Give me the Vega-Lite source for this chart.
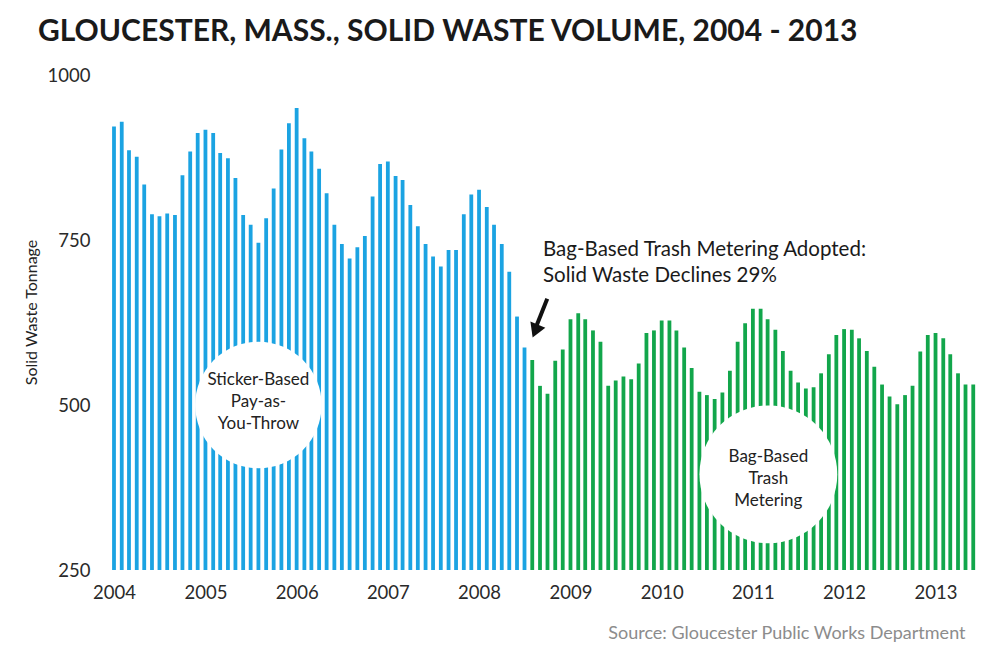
{
  "$schema": "https://vega.github.io/schema/vega-lite/v6.json",
  "autosize": {"type": "none"},
  "width": 877,
  "height": 495,
  "padding": {"left": 105, "top": 75, "right": 3, "bottom": 87},
  "background": "white",
  "config": {"font": "Lato", "view": {"stroke": null}},
  "title": {
    "text": "GLOUCESTER, MASS., SOLID WASTE VOLUME, 2004 - 2013",
    "anchor": "start",
    "frame": "group",
    "dx": -67,
    "offset": 19,
    "fontSize": 30,
    "fontWeight": "bold",
    "color": "#1a1a1a"
  },
  "layer": [
    {
      "data": {"values": [
        {"month": "2004-01-01", "tons": 922, "program": "Sticker"},
        {"month": "2004-02-01", "tons": 929, "program": "Sticker"},
        {"month": "2004-03-01", "tons": 886, "program": "Sticker"},
        {"month": "2004-04-01", "tons": 876, "program": "Sticker"},
        {"month": "2004-05-01", "tons": 834, "program": "Sticker"},
        {"month": "2004-06-01", "tons": 789, "program": "Sticker"},
        {"month": "2004-07-01", "tons": 786, "program": "Sticker"},
        {"month": "2004-08-01", "tons": 790, "program": "Sticker"},
        {"month": "2004-09-01", "tons": 788, "program": "Sticker"},
        {"month": "2004-10-01", "tons": 848, "program": "Sticker"},
        {"month": "2004-11-01", "tons": 884, "program": "Sticker"},
        {"month": "2004-12-01", "tons": 912, "program": "Sticker"},
        {"month": "2005-01-01", "tons": 917, "program": "Sticker"},
        {"month": "2005-02-01", "tons": 912, "program": "Sticker"},
        {"month": "2005-03-01", "tons": 882, "program": "Sticker"},
        {"month": "2005-04-01", "tons": 874, "program": "Sticker"},
        {"month": "2005-05-01", "tons": 844, "program": "Sticker"},
        {"month": "2005-06-01", "tons": 788, "program": "Sticker"},
        {"month": "2005-07-01", "tons": 773, "program": "Sticker"},
        {"month": "2005-08-01", "tons": 746, "program": "Sticker"},
        {"month": "2005-09-01", "tons": 783, "program": "Sticker"},
        {"month": "2005-10-01", "tons": 828, "program": "Sticker"},
        {"month": "2005-11-01", "tons": 887, "program": "Sticker"},
        {"month": "2005-12-01", "tons": 927, "program": "Sticker"},
        {"month": "2006-01-01", "tons": 950, "program": "Sticker"},
        {"month": "2006-02-01", "tons": 904, "program": "Sticker"},
        {"month": "2006-03-01", "tons": 884, "program": "Sticker"},
        {"month": "2006-04-01", "tons": 858, "program": "Sticker"},
        {"month": "2006-05-01", "tons": 821, "program": "Sticker"},
        {"month": "2006-06-01", "tons": 773, "program": "Sticker"},
        {"month": "2006-07-01", "tons": 744, "program": "Sticker"},
        {"month": "2006-08-01", "tons": 722, "program": "Sticker"},
        {"month": "2006-09-01", "tons": 739, "program": "Sticker"},
        {"month": "2006-10-01", "tons": 756, "program": "Sticker"},
        {"month": "2006-11-01", "tons": 816, "program": "Sticker"},
        {"month": "2006-12-01", "tons": 865, "program": "Sticker"},
        {"month": "2007-01-01", "tons": 869, "program": "Sticker"},
        {"month": "2007-02-01", "tons": 847, "program": "Sticker"},
        {"month": "2007-03-01", "tons": 841, "program": "Sticker"},
        {"month": "2007-04-01", "tons": 803, "program": "Sticker"},
        {"month": "2007-05-01", "tons": 771, "program": "Sticker"},
        {"month": "2007-06-01", "tons": 744, "program": "Sticker"},
        {"month": "2007-07-01", "tons": 725, "program": "Sticker"},
        {"month": "2007-08-01", "tons": 710, "program": "Sticker"},
        {"month": "2007-09-01", "tons": 735, "program": "Sticker"},
        {"month": "2007-10-01", "tons": 735, "program": "Sticker"},
        {"month": "2007-11-01", "tons": 789, "program": "Sticker"},
        {"month": "2007-12-01", "tons": 819, "program": "Sticker"},
        {"month": "2008-01-01", "tons": 826, "program": "Sticker"},
        {"month": "2008-02-01", "tons": 800, "program": "Sticker"},
        {"month": "2008-03-01", "tons": 773, "program": "Sticker"},
        {"month": "2008-04-01", "tons": 744, "program": "Sticker"},
        {"month": "2008-05-01", "tons": 702, "program": "Sticker"},
        {"month": "2008-06-01", "tons": 634, "program": "Sticker"},
        {"month": "2008-07-01", "tons": 587, "program": "Sticker"},
        {"month": "2008-08-01", "tons": 568, "program": "Bag"},
        {"month": "2008-09-01", "tons": 529, "program": "Bag"},
        {"month": "2008-10-01", "tons": 517, "program": "Bag"},
        {"month": "2008-11-01", "tons": 567, "program": "Bag"},
        {"month": "2008-12-01", "tons": 584, "program": "Bag"},
        {"month": "2009-01-01", "tons": 630, "program": "Bag"},
        {"month": "2009-02-01", "tons": 639, "program": "Bag"},
        {"month": "2009-03-01", "tons": 630, "program": "Bag"},
        {"month": "2009-04-01", "tons": 613, "program": "Bag"},
        {"month": "2009-05-01", "tons": 596, "program": "Bag"},
        {"month": "2009-06-01", "tons": 529, "program": "Bag"},
        {"month": "2009-07-01", "tons": 537, "program": "Bag"},
        {"month": "2009-08-01", "tons": 543, "program": "Bag"},
        {"month": "2009-09-01", "tons": 539, "program": "Bag"},
        {"month": "2009-10-01", "tons": 563, "program": "Bag"},
        {"month": "2009-11-01", "tons": 609, "program": "Bag"},
        {"month": "2009-12-01", "tons": 613, "program": "Bag"},
        {"month": "2010-01-01", "tons": 628, "program": "Bag"},
        {"month": "2010-02-01", "tons": 628, "program": "Bag"},
        {"month": "2010-03-01", "tons": 613, "program": "Bag"},
        {"month": "2010-04-01", "tons": 587, "program": "Bag"},
        {"month": "2010-05-01", "tons": 556, "program": "Bag"},
        {"month": "2010-06-01", "tons": 520, "program": "Bag"},
        {"month": "2010-07-01", "tons": 515, "program": "Bag"},
        {"month": "2010-08-01", "tons": 509, "program": "Bag"},
        {"month": "2010-09-01", "tons": 519, "program": "Bag"},
        {"month": "2010-10-01", "tons": 552, "program": "Bag"},
        {"month": "2010-11-01", "tons": 596, "program": "Bag"},
        {"month": "2010-12-01", "tons": 624, "program": "Bag"},
        {"month": "2011-01-01", "tons": 646, "program": "Bag"},
        {"month": "2011-02-01", "tons": 646, "program": "Bag"},
        {"month": "2011-03-01", "tons": 630, "program": "Bag"},
        {"month": "2011-04-01", "tons": 614, "program": "Bag"},
        {"month": "2011-05-01", "tons": 582, "program": "Bag"},
        {"month": "2011-06-01", "tons": 552, "program": "Bag"},
        {"month": "2011-07-01", "tons": 534, "program": "Bag"},
        {"month": "2011-08-01", "tons": 525, "program": "Bag"},
        {"month": "2011-09-01", "tons": 527, "program": "Bag"},
        {"month": "2011-10-01", "tons": 548, "program": "Bag"},
        {"month": "2011-11-01", "tons": 577, "program": "Bag"},
        {"month": "2011-12-01", "tons": 606, "program": "Bag"},
        {"month": "2012-01-01", "tons": 615, "program": "Bag"},
        {"month": "2012-02-01", "tons": 614, "program": "Bag"},
        {"month": "2012-03-01", "tons": 601, "program": "Bag"},
        {"month": "2012-04-01", "tons": 582, "program": "Bag"},
        {"month": "2012-05-01", "tons": 558, "program": "Bag"},
        {"month": "2012-06-01", "tons": 531, "program": "Bag"},
        {"month": "2012-07-01", "tons": 513, "program": "Bag"},
        {"month": "2012-08-01", "tons": 501, "program": "Bag"},
        {"month": "2012-09-01", "tons": 515, "program": "Bag"},
        {"month": "2012-10-01", "tons": 529, "program": "Bag"},
        {"month": "2012-11-01", "tons": 581, "program": "Bag"},
        {"month": "2012-12-01", "tons": 606, "program": "Bag"},
        {"month": "2013-01-01", "tons": 609, "program": "Bag"},
        {"month": "2013-02-01", "tons": 601, "program": "Bag"},
        {"month": "2013-03-01", "tons": 577, "program": "Bag"},
        {"month": "2013-04-01", "tons": 548, "program": "Bag"},
        {"month": "2013-05-01", "tons": 531, "program": "Bag"},
        {"month": "2013-06-01", "tons": 531, "program": "Bag"}
      ]},
      "mark": {"type": "bar", "width": 3.8},
      "encoding": {
        "x": {
          "field": "month",
          "type": "temporal",
          "scale": {
            "type": "utc",
            "domain": [
              {"year": 2003, "month": 12, "date": 16, "utc": true},
              {"year": 2013, "month": 6, "date": 16, "utc": true}
            ]
          },
          "axis": {
            "format": "%Y",
            "tickCount": {"interval": "year", "step": 1},
            "labelFontSize": 18.5,
            "labelColor": "#2a2a2a",
            "labelPadding": 13,
            "labelFlush": false,
            "ticks": false,
            "domain": false,
            "grid": false,
            "title": "Source: Gloucester Public Works Department",
            "titleFontSize": 18,
            "titleFontWeight": "normal",
            "titleColor": "#8c8c8c",
            "titleX": 860,
            "titleY": 63,
            "titleAlign": "right",
            "titleBaseline": "middle"
          }
        },
        "y": {
          "field": "tons",
          "type": "quantitative",
          "scale": {"domain": [250, 1000], "nice": false, "zero": false},
          "axis": {
            "values": [250, 500, 750, 1000],
            "format": "d",
            "labelFontSize": 18.5,
            "labelColor": "#2a2a2a",
            "labelPadding": 15,
            "ticks": false,
            "domain": false,
            "grid": false,
            "title": "Solid Waste Tonnage",
            "titleFontSize": 16,
            "titleFontWeight": "normal",
            "titleColor": "#222222",
            "titlePadding": 8,
            "titleY": 237
          }
        },
        "y2": {"datum": 250},
        "color": {
          "field": "program",
          "type": "nominal",
          "scale": {"domain": ["Sticker", "Bag"], "range": ["#1ba3e2", "#12a64b"]},
          "legend": null
        }
      }
    },
    {
      "data": {"values": [{}]},
      "mark": {"type": "point", "shape": "circle", "filled": true, "color": "white", "opacity": 1, "size": 16000},
      "encoding": {
        "x": {"datum": {"year": 2005, "month": 8, "date": 1, "utc": true}, "type": "temporal"},
        "y": {"datum": 500, "type": "quantitative"}
      }
    },
    {
      "data": {"values": [{}]},
      "mark": {"type": "point", "shape": "circle", "filled": true, "color": "white", "opacity": 1, "size": 19000},
      "encoding": {
        "x": {"datum": {"year": 2011, "month": 3, "date": 4, "utc": true}, "type": "temporal"},
        "y": {"datum": 395, "type": "quantitative"}
      }
    },
    {
      "data": {"values": [{}]},
      "mark": {"type": "text", "text": "Sticker-Based\nPay-as-\nYou-Throw", "lineBreak": "\n", "lineHeight": 22, "fontSize": 17, "color": "#222222", "align": "center", "baseline": "middle"},
      "encoding": {
        "x": {"datum": {"year": 2005, "month": 8, "date": 1, "utc": true}, "type": "temporal"},
        "y": {"datum": 538, "type": "quantitative"}
      }
    },
    {
      "data": {"values": [{}]},
      "mark": {"type": "text", "text": "Bag-Based\nTrash\nMetering", "lineBreak": "\n", "lineHeight": 22, "fontSize": 17, "color": "#222222", "align": "center", "baseline": "middle"},
      "encoding": {
        "x": {"datum": {"year": 2011, "month": 3, "date": 4, "utc": true}, "type": "temporal"},
        "y": {"datum": 421, "type": "quantitative"}
      }
    },
    {
      "data": {"values": [{}]},
      "mark": {"type": "text", "text": "Bag-Based Trash Metering Adopted:\nSolid Waste Declines 29%", "lineBreak": "\n", "lineHeight": 26, "fontSize": 20.5, "color": "#1a1a1a", "align": "left", "baseline": "middle"},
      "encoding": {
        "x": {"datum": {"year": 2008, "month": 9, "date": 13, "utc": true}, "type": "temporal"},
        "y": {"datum": 735, "type": "quantitative"}
      }
    },
    {
      "data": {"values": [{}]},
      "mark": {"type": "rule", "color": "#111111", "strokeWidth": 4},
      "encoding": {
        "x": {"datum": {"year": 2008, "month": 9, "date": 30, "utc": true}, "type": "temporal"},
        "y": {"datum": 661, "type": "quantitative"},
        "x2": {"datum": {"year": 2008, "month": 8, "date": 18, "utc": true}},
        "y2": {"datum": 620}
      }
    },
    {
      "data": {"values": [{}]},
      "mark": {"type": "point", "shape": "triangle-down", "filled": true, "color": "#111111", "opacity": 1, "size": 260, "angle": 22},
      "encoding": {
        "x": {"datum": {"year": 2008, "month": 8, "date": 13, "utc": true}, "type": "temporal"},
        "y": {"datum": 612, "type": "quantitative"}
      }
    }
  ]
}
